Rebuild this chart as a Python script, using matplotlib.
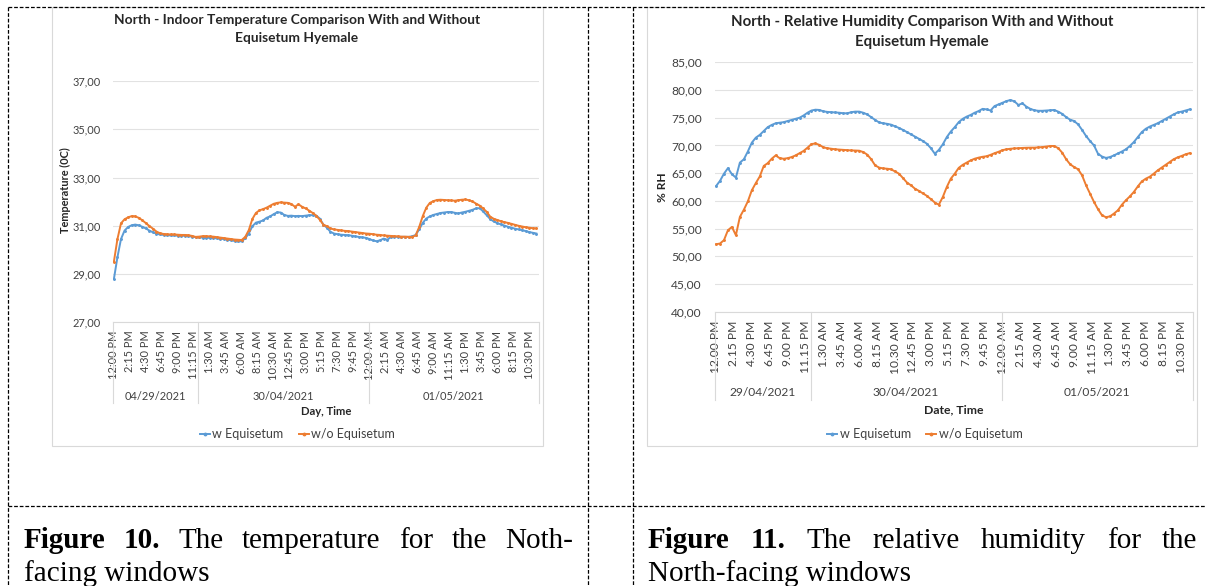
import numpy as np
import matplotlib
matplotlib.use('Agg')
import matplotlib.pyplot as plt
from matplotlib.lines import Line2D
from matplotlib.patches import Rectangle

# readings every 30 minutes, starting 12:00 PM on 29/04/2021
temp_w = [
    28.79, 29.70, 30.45, 30.80, 30.95, 31.02, 31.05, 31.02, 30.96, 30.89,
    30.80, 30.73, 30.67, 30.64, 30.62, 30.61, 30.60, 30.60, 30.59, 30.59,
    30.58, 30.57, 30.55, 30.53, 30.52, 30.51, 30.50, 30.50, 30.49, 30.48,
    30.46, 30.45, 30.42, 30.40, 30.37, 30.35, 30.36, 30.48, 30.68, 30.98,
    31.13, 31.17, 31.22, 31.33, 31.39, 31.48, 31.56, 31.55, 31.45, 31.41,
    31.42, 31.40, 31.41, 31.40, 31.42, 31.44, 31.44, 31.42, 31.30, 31.05,
    30.92, 30.75, 30.68, 30.65, 30.63, 30.62, 30.61, 30.59, 30.56, 30.54,
    30.52, 30.50, 30.45, 30.39, 30.36, 30.40, 30.47, 30.42, 30.53, 30.54,
    30.54, 30.54, 30.54, 30.54, 30.56, 30.62, 30.85, 31.12, 31.30, 31.39,
    31.45, 31.49, 31.53, 31.55, 31.57, 31.57, 31.54, 31.51, 31.55, 31.58,
    31.62, 31.66, 31.72, 31.73, 31.60, 31.44, 31.28, 31.18, 31.11, 31.06,
    31.01, 30.96, 30.92, 30.88, 30.85, 30.82, 30.78, 30.74, 30.71, 30.68,
]
temp_wo = [
    29.51, 30.45, 31.10, 31.27, 31.35, 31.40, 31.39, 31.33, 31.23, 31.11,
    30.99, 30.88, 30.76, 30.69, 30.66, 30.65, 30.64, 30.64, 30.63, 30.62,
    30.62, 30.61, 30.58, 30.54, 30.55, 30.57, 30.57, 30.56, 30.55, 30.53,
    30.51, 30.49, 30.47, 30.45, 30.43, 30.42, 30.41, 30.54, 30.82, 31.28,
    31.53, 31.64, 31.69, 31.75, 31.83, 31.91, 31.95, 31.97, 31.96, 31.95,
    31.90, 31.79, 31.89, 31.79, 31.72, 31.63, 31.53, 31.42, 31.25, 31.05,
    30.98, 30.89, 30.85, 30.83, 30.81, 30.79, 30.78, 30.76, 30.74, 30.72,
    30.70, 30.68, 30.67, 30.65, 30.63, 30.62, 30.60, 30.59, 30.58, 30.57,
    30.56, 30.55, 30.55, 30.54, 30.54, 30.60, 30.95, 31.40, 31.75, 31.95,
    32.02, 32.07, 32.08, 32.07, 32.06, 32.05, 32.04, 32.06, 32.08, 32.09,
    32.06, 32.01, 31.92, 31.84, 31.72, 31.58, 31.38, 31.29, 31.24, 31.19,
    31.15, 31.12, 31.08, 31.04, 31.00, 30.97, 30.94, 30.92, 30.90, 30.89,
]
rh_w = [
    62.65, 63.60, 64.90, 65.90, 64.80, 64.20, 66.90, 67.50, 68.90, 70.50,
    71.40, 71.90, 72.60, 73.30, 73.70, 74.00, 74.10, 74.20, 74.40, 74.60,
    74.80, 75.00, 75.40, 75.90, 76.30, 76.45, 76.40, 76.15, 76.05, 76.00,
    75.95, 75.90, 75.80, 75.80, 76.00, 76.10, 76.10, 75.90, 75.60, 75.10,
    74.60, 74.15, 74.00, 73.90, 73.75, 73.45, 73.15, 72.80, 72.40, 72.00,
    71.60, 71.20, 70.80, 70.30, 69.50, 68.50, 69.20, 70.20, 71.50, 72.50,
    73.30, 74.20, 74.80, 75.20, 75.50, 75.90, 76.20, 76.60, 76.50, 76.30,
    77.10, 77.40, 77.70, 78.00, 78.20, 77.95, 77.30, 77.60, 77.00, 76.60,
    76.35, 76.25, 76.25, 76.30, 76.35, 76.40, 76.10, 75.70, 75.10, 74.65,
    74.40, 73.80, 72.80, 71.70, 70.80, 70.00, 68.50, 68.00, 67.75, 67.90,
    68.20, 68.55, 68.90, 69.30, 69.90, 70.60, 71.50, 72.40, 73.00, 73.40,
    73.70, 74.00, 74.40, 74.80, 75.20, 75.60, 75.95, 76.10, 76.30, 76.50,
]
rh_wo = [
    52.17, 52.30, 52.90, 54.70, 55.30, 53.80, 57.10, 58.40, 59.90, 61.90,
    63.20, 64.40, 66.30, 66.80, 67.60, 68.20, 67.70, 67.60, 67.70, 67.90,
    68.20, 68.60, 69.00, 69.60, 70.25, 70.35, 70.10, 69.65, 69.50, 69.40,
    69.30, 69.25, 69.20, 69.15, 69.10, 69.08, 69.05, 68.80, 68.35, 67.50,
    66.40, 66.00, 65.85, 65.80, 65.70, 65.30, 64.90, 64.10, 63.30, 62.80,
    62.20, 61.80, 61.35, 60.90, 60.30, 59.70, 59.30, 60.70, 62.50, 64.00,
    64.90, 65.95, 66.50, 66.90, 67.30, 67.60, 67.80, 67.95, 68.05, 68.30,
    68.60, 68.85, 69.15, 69.30, 69.40, 69.46, 69.50, 69.55, 69.58, 69.60,
    69.60, 69.65, 69.70, 69.80, 69.90, 69.90, 69.50, 68.70, 67.50, 66.60,
    66.10, 65.70, 64.60, 62.80, 61.30, 59.80, 58.50, 57.40, 57.05, 57.20,
    57.70, 58.30, 59.30, 60.10, 60.80, 61.60, 62.60, 63.50, 64.00, 64.35,
    64.90, 65.50, 66.00, 66.50, 67.00, 67.50, 67.85, 68.10, 68.40, 68.60,
]

temp_ticks = ['12:00 PM', '2:15 PM', '4:30 PM', '6:45 PM', '9:00 PM', '11:15 PM',
              '1:30 AM', '3:45 AM', '6:00 AM', '8:15 AM', '10:30 AM', '12:45 PM',
              '3:00 PM', '5:15 PM', '7:30 PM', '9:45 PM', '12:00 AM', '2:15 AM',
              '4:30 AM', '6:45 AM', '9:00 AM', '11:15 AM', '1:30 PM', '3:45 PM',
              '6:00 PM', '8:15 PM', '10:30 PM']
rh_ticks = [t.replace(':', '.') for t in temp_ticks]
temp_days = ['04/29/2021', '30/04/2021', '01/05/2021']
rh_days = ['29/04/2021', '30/04/2021', '01/05/2021']
day_bounds = [0, 12, 36, 60]  # hours since start

hours = np.arange(len(temp_w)) * 0.5
tick_hours = np.arange(len(temp_ticks)) * 2.25

W, H = 1206, 586
BLUE = '#5B9BD5'
ORANGE = '#ED7D31'
GRID = '#E2E2E2'
FRAME = '#D9D9D9'
TXT = '#404040'
HEAD = '#262626'

plt.rcParams['font.family'] = ['Lato', 'DejaVu Sans']

fig = plt.figure(figsize=(W / 100, H / 100), dpi=100)
fig.patch.set_facecolor('white')


def fx(x):
    return x / W


def fy(y):
    return 1 - y / H


def draw_chart(box, s_w, s_wo, ylim, ystep, ticks, days, k, date_y, sep_y):
    x0, y0, x1, y1 = box
    ax = fig.add_axes([fx(x0), fy(y1), (x1 - x0) / W, (y1 - y0) / H])
    ax.plot(hours, s_w, color=BLUE, lw=1.4, marker='o', ms=1.1, label='w Equisetum')
    ax.plot(hours, s_wo, color=ORANGE, lw=1.4, marker='o', ms=1.1, label='w/o Equisetum')
    ax.set_xlim(-0.125, 59.875)
    ax.set_ylim(*ylim)
    yt = np.arange(ylim[0], ylim[1] + 0.01, ystep)
    ax.set_yticks(yt, [f'{v:.2f}'.replace('.', ',') for v in yt])
    ax.set_xticks(tick_hours, ticks, rotation=90)
    ax.tick_params(length=0, labelsize=7.9 * k, labelcolor=TXT)
    ax.tick_params(axis='y', pad=8.6 * k)
    ax.tick_params(axis='x', pad=6 * k)
    for s in ax.spines.values():
        s.set_visible(False)
    ax.spines['bottom'].set_visible(True)
    ax.spines['bottom'].set_color(FRAME)
    ax.spines['bottom'].set_linewidth(0.8)
    ax.yaxis.grid(True, color=GRID, lw=0.8)
    ax.set_axisbelow(True)

    # second level of the category axis: days
    trans = ax.get_xaxis_transform()
    hpx = y1 - y0
    for b in day_bounds:
        ax.plot([b - 0.125, b - 0.125], [0, -(sep_y - y1) / hpx], transform=trans,
                clip_on=False, color=FRAME, lw=0.8)
    for a, b, lab in zip(day_bounds[:-1], day_bounds[1:], days):
        ax.text((a + b) / 2 - 0.125, -(date_y - y1) / hpx, lab, transform=trans,
                ha='center', va='center', fontsize=7.9 * k, color=TXT)
    return ax


def frame(x0, y0, x1, y1):
    fig.add_artist(Rectangle((fx(x0), fy(y1)), (x1 - x0) / W, (y1 - y0) / H,
                             transform=fig.transFigure, fill=False, ec=FRAME, lw=0.8))


def dashed(xs, ys):
    fig.add_artist(Line2D([fx(x) for x in xs], [fy(y) for y in ys], transform=fig.transFigure,
                          color='black', lw=0.9, ls=(0, (3, 1.5))))


def justify(words, x0, x1, y, fs):
    objs = [fig.text(0, fy(y), w, fontsize=fs, family='Liberation Serif', va='baseline',
                     fontweight='bold' if b else 'normal') for w, b in words]
    r = fig.canvas.get_renderer()
    widths = [o.get_window_extent(r).width for o in objs]
    gap = (x1 - x0 - sum(widths)) / (len(objs) - 1)
    x = x0
    for o, w in zip(objs, widths):
        o.set_x(fx(x))
        x += w + gap


frame(51.7, 7, 543.3, 446)
frame(647.3, 7, 1197.3, 446)

# left: temperature
ax1 = draw_chart((113, 81, 539, 322.3), temp_w, temp_wo, (27, 37), 2, temp_ticks, temp_days,
                 1.0, 396, 403)
fig.text(fx(297), fy(20), 'North - Indoor Temperature Comparison With and Without',
         ha='center', va='center', fontsize=9.9, fontweight='bold', color=HEAD)
fig.text(fx(297), fy(38), 'Equisetum Hyemale',
         ha='center', va='center', fontsize=9.9, fontweight='bold', color=HEAD)
fig.text(fx(65), fy(190), 'Temperature (0C)', rotation=90, ha='center', va='center',
         fontsize=7.9, fontweight='bold', color=HEAD)
fig.text(fx(326), fy(411.7), 'Day, Time', ha='center', va='center',
         fontsize=8.1, fontweight='bold', color=HEAD)
ax1.legend(loc='center', bbox_to_anchor=(fx(297.5), fy(434)), bbox_transform=fig.transFigure,
           ncol=2, frameon=False, fontsize=9.0, handlelength=0.8, handletextpad=0.2,
           columnspacing=1.2, labelcolor=TXT, markerscale=1.6)

# right: relative humidity
ax2 = draw_chart((715, 62.3, 1192.5, 311.7), rh_w, rh_wo, (40, 85), 5, rh_ticks, rh_days,
                 1.09, 392.7, 400)
fig.text(fx(922), fy(21.7), 'North - Relative Humidity Comparison With and Without',
         ha='center', va='center', fontsize=10.8, fontweight='bold', color=HEAD)
fig.text(fx(922), fy(41.7), 'Equisetum Hyemale',
         ha='center', va='center', fontsize=10.8, fontweight='bold', color=HEAD)
fig.text(fx(663), fy(187), '% RH', rotation=90, ha='center', va='center',
         fontsize=8.6, fontweight='bold', color=HEAD)
fig.text(fx(953.7), fy(410), 'Date, Time', ha='center', va='center',
         fontsize=8.8, fontweight='bold', color=HEAD)
ax2.legend(loc='center', bbox_to_anchor=(fx(925), fy(434)), bbox_transform=fig.transFigure,
           ncol=2, frameon=False, fontsize=9.0, handlelength=0.8, handletextpad=0.2,
           columnspacing=1.2, labelcolor=TXT, markerscale=1.6)

# table borders
dashed([8, W], [7, 7])
dashed([8, W], [506, 506])
for xv in (8, 588, 633):
    dashed([xv, xv], [7, H])

# captions
justify([('Figure', True), ('10.', True), ('The', False), ('temperature', False),
         ('for', False), ('the', False), ('Noth-', False)], 23.7, 573, 548, 21)
fig.text(fx(23.7), fy(581), 'facing windows', fontsize=21, family='Liberation Serif',
         va='baseline')
justify([('Figure', True), ('11.', True), ('The', False), ('relative', False),
         ('humidity', False), ('for', False), ('the', False)], 648, 1197, 548, 21)
fig.text(fx(648), fy(581), 'North-facing windows', fontsize=21, family='Liberation Serif',
         va='baseline')

fig.savefig('out.png', dpi=100)
